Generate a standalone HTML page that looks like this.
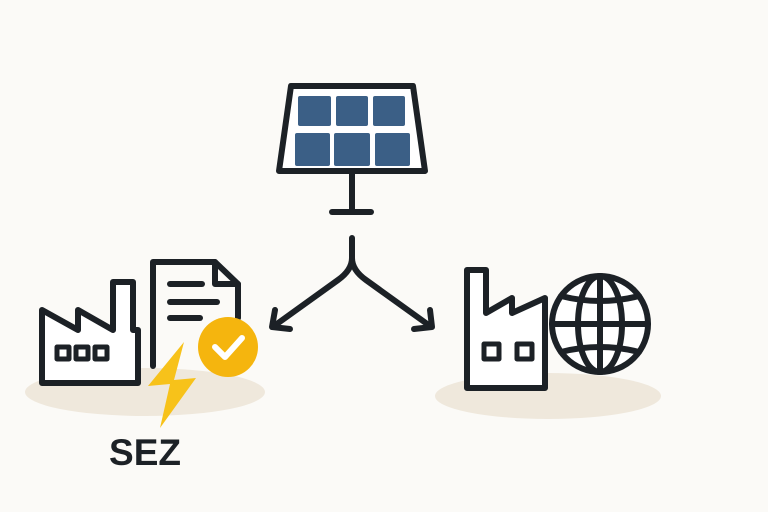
<!DOCTYPE html>
<html><head><style>html,body{margin:0;background:#fbfaf7}svg{display:block}</style></head><body>
<svg width="768" height="512" viewBox="0 0 768 512" xmlns="http://www.w3.org/2000/svg">
<rect width="768" height="512" fill="#fbfaf7"/>
<ellipse cx="145" cy="392" rx="120" ry="24" fill="#efe8dc"/>
<ellipse cx="548" cy="396" rx="113" ry="23" fill="#efe8dc"/>
<g fill="none" stroke="#1c2126" stroke-width="6" stroke-linejoin="round" stroke-linecap="round">
<path d="M291 86 H413 L425 171 H279 Z" fill="#fff"/>
<line x1="352" y1="172" x2="352" y2="210"/>
<line x1="332" y1="212" x2="371" y2="212"/>
<path d="M352 238 V258 Q352 270 338 280 L274 326"/>
<path d="M352 258 Q352 270 366 280 L430 326"/>
<path d="M275 310 L272 327 L290 329"/>
<path d="M430 310 L432 327 L414 329"/>
<path d="M42 383 V310 L78 330 V310 L113 330 V282 H133 V330 H138 V383 Z" fill="#fff"/>
<rect x="57" y="347" width="12" height="12" stroke-width="5"/>
<rect x="76" y="347" width="12" height="12" stroke-width="5"/>
<rect x="95" y="347" width="12" height="12" stroke-width="5"/>
<path d="M153 366 V262 H215 L238 284 V318" />
<path d="M215 262 V284 H238"/>
<line x1="170" y1="284" x2="202" y2="284"/>
<line x1="170" y1="302" x2="217" y2="302"/>
<line x1="170" y1="318" x2="200" y2="318"/>
<path d="M467 388 V270 H486 V313 L512 298 V313 L545 298 V388 Z" fill="#fff"/>
<rect x="484" y="344" width="15" height="15" stroke-width="5"/>
<rect x="517" y="344" width="15" height="15" stroke-width="5"/>
<circle cx="600" cy="324" r="48" fill="#fff"/>
<ellipse cx="600" cy="324" rx="22" ry="48"/>
<line x1="600" y1="276" x2="600" y2="372"/>
<line x1="552" y1="324" x2="648" y2="324"/>
<path d="M561 296 Q600 306 639 296"/>
<path d="M561 352 Q600 342 639 352"/>
</g>
<g fill="#3b5f86">
<rect x="298" y="96" width="33" height="30" rx="2"/>
<rect x="336" y="96" width="32" height="30" rx="2"/>
<rect x="373" y="96" width="32" height="30" rx="2"/>
<rect x="295" y="133" width="35" height="33" rx="2"/>
<rect x="334" y="133" width="36" height="33" rx="2"/>
<rect x="375" y="133" width="35" height="33" rx="2"/>
</g>
<circle cx="228" cy="347" r="30" fill="#f5b50e"/>
<path d="M215 347 L225 357 L242 338" fill="none" stroke="#fff" stroke-width="6" stroke-linecap="round" stroke-linejoin="round"/>
<path d="M184 342 L148 386 L170 384 L160 428 L196 378 L174 380 Z" fill="#f7c21a"/>
<text x="145" y="465" text-anchor="middle" font-family="Liberation Sans, sans-serif" font-weight="bold" font-size="37" fill="#1c2126">SEZ</text>
</svg>
</body></html>
